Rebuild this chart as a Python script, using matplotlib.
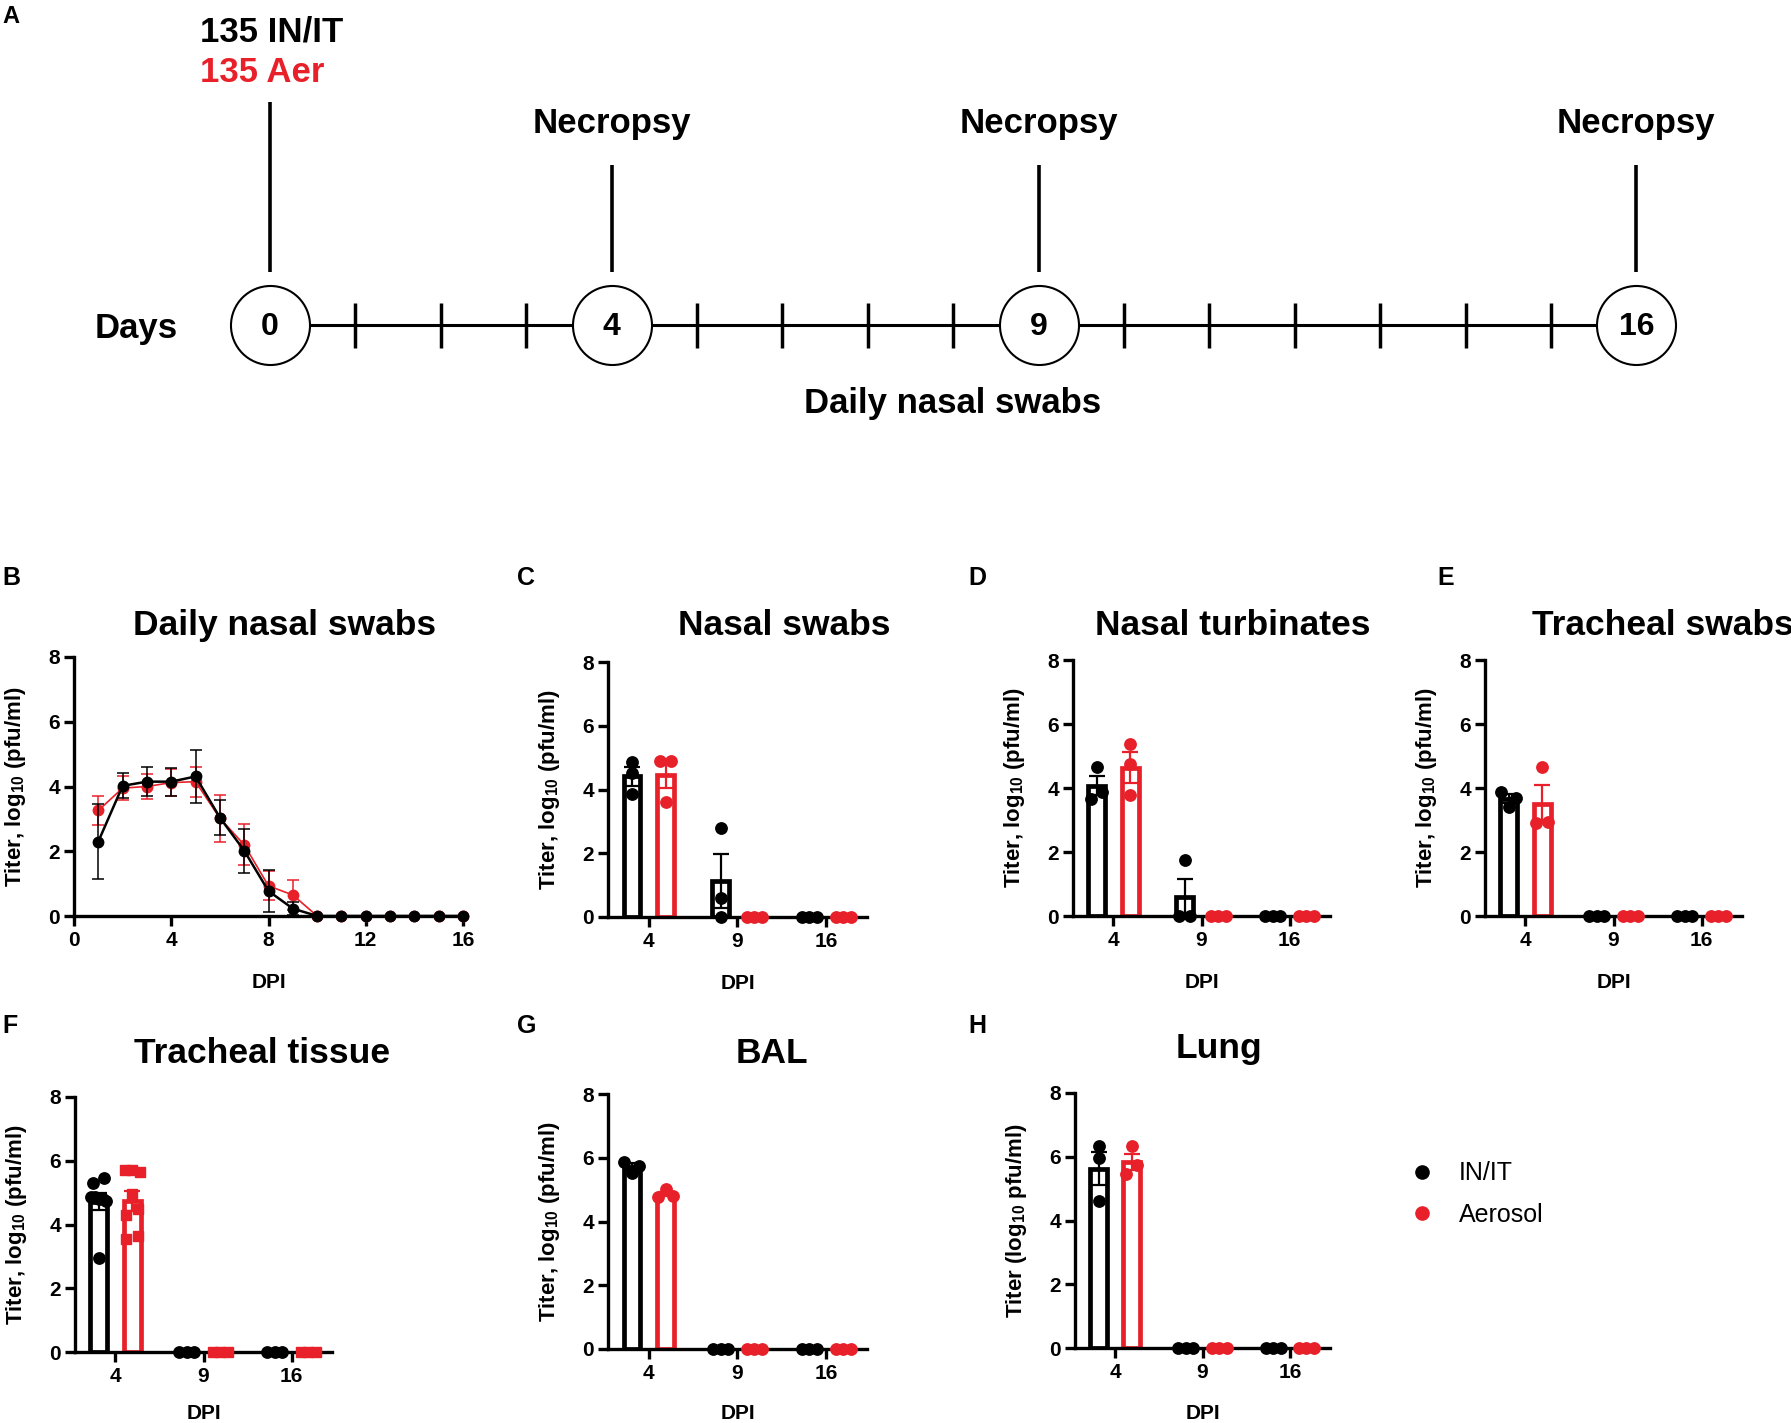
import numpy as np
import matplotlib
matplotlib.use("Agg")
import matplotlib.pyplot as plt
from matplotlib.lines import Line2D

plt.rcParams['font.family'] = ['Liberation Sans', 'DejaVu Sans']
plt.rcParams['font.weight'] = 'bold'
plt.rcParams['axes.labelweight'] = 'bold'
plt.rcParams['mathtext.fontset'] = 'custom'
plt.rcParams['mathtext.rm'] = 'Liberation Sans:bold'
plt.rcParams['mathtext.it'] = 'Liberation Sans:bold'
plt.rcParams['mathtext.bf'] = 'Liberation Sans:bold'

BLACK = '#000000'
RED = '#E8202A'

# ---------------- data ----------------
# timeline (panel A)
event_days = [0, 4, 9, 16]
event_labels = ['', 'Necropsy', 'Necropsy', 'Necropsy']
swab_days = [d for d in range(1, 16) if d not in event_days]

# panel B: daily nasal swabs, mean and SEM
dpi_days = list(range(1, 17))
swab_init_mean = [2.30, 4.02, 4.15, 4.15, 4.31, 3.04, 2.02, 0.77, 0.23, 0, 0, 0, 0, 0, 0, 0]
swab_init_sem = [1.15, 0.39, 0.44, 0.43, 0.81, 0.55, 0.68, 0.65, 0.20, 0, 0, 0, 0, 0, 0, 0]
swab_aer_mean = [3.26, 3.95, 4.00, 4.12, 4.15, 3.02, 2.20, 0.93, 0.65, 0, 0, 0, 0, 0, 0, 0]
swab_aer_sem = [0.45, 0.37, 0.40, 0.42, 0.46, 0.72, 0.63, 0.45, 0.46, 0, 0, 0, 0, 0, 0, 0]

# panels C-H: individual animals at necropsy days
necropsy_days = ['4', '9', '16']
nasal_swab_init = [[4.87, 4.53, 3.85], [2.78, 0.59, 0.0], [0.0, 0.0, 0.0]]
nasal_swab_aer = [[4.90, 4.90, 3.60], [0.0, 0.0, 0.0], [0.0, 0.0, 0.0]]
turb_init = [[4.65, 3.67, 3.89], [1.75, 0.0, 0.0], [0.0, 0.0, 0.0]]
turb_aer = [[5.39, 4.76, 3.77], [0.0, 0.0, 0.0], [0.0, 0.0, 0.0]]
trach_swab_init = [[3.89, 3.42, 3.68], [0.0, 0.0, 0.0], [0.0, 0.0, 0.0]]
trach_swab_aer = [[4.67, 2.90, 2.95], [0.0, 0.0, 0.0], [0.0, 0.0, 0.0]]
trach_tissue_init = [[5.30, 5.45, 4.85, 4.85, 4.80, 4.80, 4.75, 2.95], [0.0, 0.0, 0.0], [0.0, 0.0, 0.0]]
trach_tissue_aer = [[5.70, 5.70, 5.65, 4.95, 4.30, 4.50, 3.55, 3.65], [0.0, 0.0, 0.0], [0.0, 0.0, 0.0]]
bal_init = [[5.88, 5.51, 5.75], [0.0, 0.0, 0.0], [0.0, 0.0, 0.0]]
bal_aer = [[4.78, 5.01, 4.80], [0.0, 0.0, 0.0], [0.0, 0.0, 0.0]]
lung_init = [[6.33, 5.96, 4.60], [0.0, 0.0, 0.0], [0.0, 0.0, 0.0]]
lung_aer = [[6.33, 5.46, 5.73], [0.0, 0.0, 0.0], [0.0, 0.0, 0.0]]

# ---------------- figure ----------------
W, H = 1791, 1423
fig = plt.figure(figsize=(W / 100, H / 100), dpi=100)


def fx(px):
    return px / W


def fy(py):
    return 1 - py / H


def add_ax(l, r, t, b):
    return fig.add_axes([fx(l), fy(b), (r - l) / W, (b - t) / H])


# ---------------- panel A: timeline ----------------
day_px = 85.4
ax_tl = fig.add_axes([0, fy(440), 1, 440 / H])
ax_tl.set_xlim(-270 / day_px, (W - 270) / day_px)
ax_tl.set_ylim(440, 0)
ax_tl.axis('off')

ax_tl.plot([event_days[0], event_days[-1]], [325, 325], color=BLACK, lw=2.2, zorder=1)
ax_tl.vlines(swab_days, 303, 348, color=BLACK, lw=2.5, zorder=1)
ax_tl.scatter(event_days, [325] * len(event_days), s=3237, facecolor='white',
              edgecolor=BLACK, linewidth=1.5, zorder=3)
for d, lab in zip(event_days, event_labels):
    ax_tl.text(d, 327, str(d), ha='center', va='center', fontsize=23, zorder=4)
    top = 102 if d == 0 else 165
    ax_tl.vlines(d, top, 272, color=BLACK, lw=2.6)
    if lab:
        ax_tl.text(d, 133, lab, ha='center', va='baseline', fontsize=25)

fig.text(fx(2), fy(23), 'A', fontsize=17, va='baseline', ha='left')
fig.text(fx(200), fy(41), '135 IN/IT', fontsize=25, va='baseline', ha='left', color=BLACK)
fig.text(fx(200), fy(82), '135 Aer', fontsize=25, va='baseline', ha='left', color=RED)
fig.text(fx(136), fy(338), 'Days', fontsize=25, va='baseline', ha='center')
fig.text(fx(953), fy(413), 'Daily nasal swabs', fontsize=25, va='baseline', ha='center')

# ---------------- helpers ----------------
YLAB = r'Titer, log$_{10}$ (pfu/ml)'


def style(ax, l, r, t, b, ylabel):
    for s in ['top', 'right']:
        ax.spines[s].set_visible(False)
    for s in ['left', 'bottom']:
        ax.spines[s].set_linewidth(2.4)
    ax.tick_params(axis='both', width=2.4)
    ax.tick_params(axis='y', length=7, pad=3, labelsize=15)
    ax.tick_params(axis='x', length=7, pad=4, labelsize=15)
    ax.set_ylim(0, 8)
    ax.set_yticks([0, 2, 4, 6, 8])
    for lab in ax.get_xticklabels() + ax.get_yticklabels():
        lab.set_fontweight('bold')
    ax.set_ylabel(ylabel, fontsize=16, fontweight='bold')
    ax.yaxis.set_label_coords(-46 / (r - l), 0.5)
    ax.set_xlabel('DPI', fontsize=15, fontweight='bold')
    # keep the label inside the figure for the bottom row
    drop = min(57, H - 19 - b)
    ax.xaxis.set_label_coords(0.5, -drop / (b - t))


def spread(vals, thr=0.3):
    # Prism-like horizontal spread of points that would overlap
    vals = np.asarray(vals, float)
    order = np.argsort(vals, kind='stable')
    offs = np.zeros(len(vals))
    clusters = [[order[0]]]
    for i in order[1:]:
        if vals[i] - vals[clusters[-1][-1]] < thr:
            clusters[-1].append(i)
        else:
            clusters.append([i])
    for c in clusters:
        k = len(c)
        if k > 1:
            d = min(0.13, 0.17 / (k - 1))
            for j, idx in enumerate(sorted(c)):
                offs[idx] = (j - (k - 1) / 2) * d
    return offs


def bar_panel(ax, init, aer, aer_marker='o'):
    x = np.arange(len(necropsy_days))
    for groups, color, marker, shift in [(init, BLACK, 'o', -0.19), (aer, RED, aer_marker, 0.19)]:
        for xi, vals in zip(x, groups):
            vals = np.asarray(vals, float)
            m = vals.mean()
            sem = vals.std(ddof=1) / np.sqrt(len(vals))
            pos = xi + shift
            if m > 0:
                ax.bar(pos, m, width=0.19, facecolor='white', edgecolor=color,
                       linewidth=3.4, zorder=2)
                ax.errorbar(pos, m, yerr=sem, color=color, capsize=6, elinewidth=1.6,
                            capthick=1.6, zorder=3)
            ms = 7.5 if marker == 's' else 8.2
            ax.plot(pos + spread(vals), vals, ls='none', marker=marker, ms=ms,
                    color=color, clip_on=False, zorder=4)
    ax.set_xlim(-0.46, 2.46)
    ax.set_xticks(x)
    ax.set_xticklabels(necropsy_days)


# ---------------- panel B ----------------
l, r, t, b = 74, 463, 657, 916
axB = add_ax(l, r, t, b)
for mean, sem, color, lw, z in [(swab_aer_mean, swab_aer_sem, RED, 1.2, 3),
                                (swab_init_mean, swab_init_sem, BLACK, 1.8, 4)]:
    cont = axB.errorbar(dpi_days, mean, yerr=sem, color=color, marker='o', ms=7.5,
                        lw=lw, elinewidth=1.1, capsize=4.3, capthick=1.1, zorder=z)
    for art in cont.get_children():
        art.set_clip_on(False)
axB.set_xlim(0, 16)
axB.set_xticks([0, 4, 8, 12, 16])
style(axB, l, r, t, b, YLAB)

# ---------------- panels C-H ----------------
panels = [
    ((608, 867, 662, 917), nasal_swab_init, nasal_swab_aer, 'o', YLAB),
    ((1073, 1330, 660, 916), turb_init, turb_aer, 'o', YLAB),
    ((1485, 1742, 660, 916), trach_swab_init, trach_swab_aer, 'o', YLAB),
    ((75, 332, 1097, 1352), trach_tissue_init, trach_tissue_aer, 's', YLAB),
    ((608, 867, 1094, 1349), bal_init, bal_aer, 'o', YLAB),
    ((1075, 1330, 1093, 1348), lung_init, lung_aer, 'o', r'Titer (log$_{10}$ pfu/ml)'),
]
for (l, r, t, b), init, aer, mk, ylab in panels:
    ax = add_ax(l, r, t, b)
    bar_panel(ax, init, aer, mk)
    style(ax, l, r, t, b, ylab)

# ---------------- titles and panel letters ----------------
titles = [
    ('Daily nasal swabs', 285, 635, 'center'),
    ('Nasal swabs', 784, 635, 'center'),
    ('Nasal turbinates', 1233, 635, 'center'),
    ('Tracheal swabs', 1532, 635, 'left'),
    ('Tracheal tissue', 262, 1063, 'center'),
    ('BAL', 772, 1063, 'center'),
    ('Lung', 1219, 1058, 'center'),
]
for txt, px, py, ha in titles:
    fig.text(fx(px), fy(py), txt, fontsize=25.5, ha=ha, va='baseline')

letters = [('B', 2, 585), ('C', 517, 585), ('D', 968, 585), ('E', 1437, 585),
           ('F', 2, 1033), ('G', 517, 1033), ('H', 968, 1033)]
for txt, px, py in letters:
    fig.text(fx(px), fy(py), txt, fontsize=18, ha='left', va='baseline')

# ---------------- legend ----------------
handles = [Line2D([], [], ls='none', marker='o', ms=9.5, color=BLACK, label='IN/IT'),
           Line2D([], [], ls='none', marker='o', ms=9.5, color=RED, label='Aerosol')]
fig.legend(handles=handles, loc='center left', bbox_to_anchor=(fx(1409), fy(1194)),
           frameon=False, handlelength=1.0, handletextpad=1.0, labelspacing=0.7,
           borderpad=0, borderaxespad=0, prop={'weight': 'normal', 'size': 18})

fig.savefig('out.png', dpi=100)
